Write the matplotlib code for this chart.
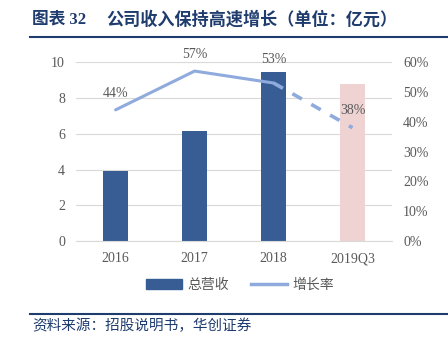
import matplotlib.pyplot as plt
from matplotlib.lines import Line2D
from matplotlib.patches import Patch

plt.rcParams['font.family'] = ['Liberation Serif', 'Noto Sans CJK SC']

categories = ['2016', '2017', '2018', '2019Q3']
revenue = [3.9, 6.15, 9.45, 8.8]
growth = [0.44, 0.57, 0.53, 0.38]
growth_labels = ['44%', '57%', '53%', '38%']

dark_blue = '#375D94'
pink = '#EFD3D3'
light_blue = '#8FAADC'
grey = '#595959'

fig = plt.figure(figsize=(4.48, 3.49), dpi=100)
ax = fig.add_axes([0.170, 0.309, 0.705, 0.513])
ax2 = ax.twinx()

x = range(len(categories))
bar_colors = [dark_blue] * 3 + [pink]
ax.bar(x, revenue, width=0.31, color=bar_colors, zorder=2)
ax.set_ylim(0, 10)
ax.set_xlim(-0.5, 3.5)
ax.set_yticks(range(0, 11, 2))
ax.yaxis.grid(True, color='#D9D9D9', linewidth=0.8, zorder=0)
ax.set_axisbelow(True)
ax.set_xticks(list(x))
ax.set_xticklabels(categories)

for a in (ax, ax2):
    for s in a.spines.values():
        s.set_visible(False)
    a.tick_params(length=0, labelsize=10, colors=grey, pad=8)
ax.spines['bottom'].set_visible(True)
ax.spines['bottom'].set_color('#D9D9D9')

ax2.plot(list(x)[:3], growth[:3], color=light_blue, lw=2.2, solid_capstyle='round')
ax2.plot(list(x)[2:], growth[2:], color=light_blue, lw=2.6, ls=(0, (3, 3)))
ax2.set_ylim(0, 0.6)
ax2.set_yticks([i / 10 for i in range(7)])
ax2.set_yticklabels(['%d%%' % (i * 10) for i in range(7)])
offsets = [(0, 7), (0, 7), (0, 12), (0, 8)]
for i, (g, lab) in enumerate(zip(growth, growth_labels)):
    dx, dy = offsets[i]
    ax2.annotate(lab, (i, g), xytext=(dx, dy), textcoords='offset points',
                 ha='center', va='bottom', fontsize=10, color=grey)

handles = [Patch(color=dark_blue), Line2D([], [], color=light_blue, lw=2.5)]
fig.legend(handles, ['总营收', '增长率'], loc='center', bbox_to_anchor=(0.536, 0.183),
           ncol=2, frameon=False, prop={'family': 'Noto Sans CJK SC', 'size': 10},
           labelcolor=grey, handlelength=2.6, columnspacing=1.6, handletextpad=0.4)

title_color = '#1F3C6E'
fig.text(0.072, 0.945, '图表 32', fontsize=12, fontweight='bold', color=title_color,
         family=['Liberation Serif', 'Noto Sans CJK SC'], va='center')
fig.text(0.238, 0.945, '公司收入保持高速增长（单位：亿元）', fontsize=12.3, fontweight='bold',
         color=title_color, family='Noto Sans CJK SC', va='center')
fig.add_artist(Line2D([0.067, 1.0], [0.894, 0.894], color=title_color, lw=1.5))
fig.add_artist(Line2D([0.067, 1.0], [0.100, 0.100], color=title_color, lw=1.5))
fig.text(0.072, 0.066, '资料来源：招股说明书，华创证券', fontsize=10.5, color=title_color,
         family='Noto Sans CJK SC', va='center', style='italic')

plt.savefig('out.png', dpi=100)
